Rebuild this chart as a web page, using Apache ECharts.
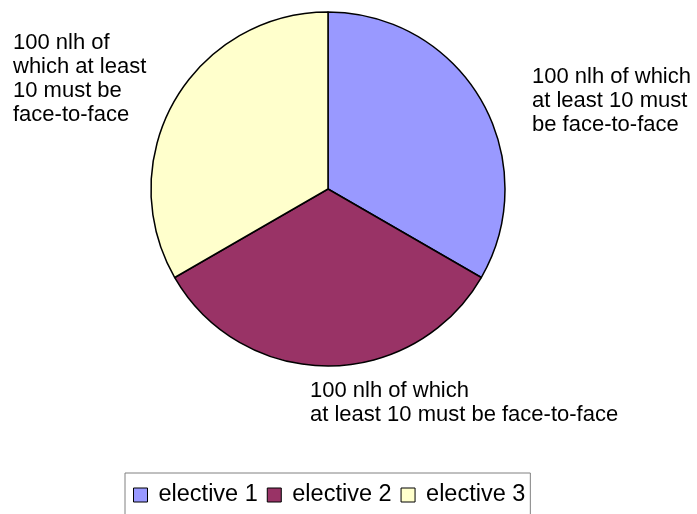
<!DOCTYPE html>
<html>
<head>
<meta charset="utf-8">
<script src="https://cdn.jsdelivr.net/npm/echarts@6/dist/echarts.min.js"></script>
<style>
  html, body { margin: 0; padding: 0; background: #fff; }
  #chart { width: 697px; height: 514px; }
</style>
</head>
<body>
<div id="chart"></div>
<script>
const categories = ["elective 1", "elective 2", "elective 3"];
const values = [100, 100, 100];
const sliceLabels = [
  "100 nlh of which\nat least 10 must\nbe face-to-face",
  "100 nlh of which\nat least 10 must be face-to-face",
  "100 nlh of\nwhich at least\n10 must be\nface-to-face",
];
const colors = ["#9999ff", "#993366", "#ffffcc"];

// where each label block sits (top-left corner)
const labelSpots = [
  [532, 65],
  [310, 379],
  [13, 31],
];

const chart = echarts.init(document.getElementById("chart"));
const font = "'Liberation Sans', Arial, sans-serif";

chart.setOption({
  animation: false,
  color: colors,
  legend: {
    data: categories,
    left: 125,
    top: 473,
    orient: "horizontal",
    icon: "rect",
    itemWidth: 14,
    itemHeight: 14,
    itemGap: 9,
    padding: [10, 5, 40, 8],
    borderColor: "#808080",
    borderWidth: 1,
    itemStyle: { borderColor: "#000", borderWidth: 1 },
    textStyle: { fontFamily: font, fontSize: 23.5, color: "#000", padding: [0, 0, 0, 6] },
  },
  series: [
    {
      type: "pie",
      center: [328, 189],
      radius: 177,
      startAngle: 90,
      clockwise: true,
      data: categories.map((name, i) => ({ name, value: values[i], label: { formatter: sliceLabels[i] } })),
      itemStyle: { borderColor: "#000", borderWidth: 1.5 },
      label: {
        show: true,
        position: "outside",
        fontFamily: font,
        fontSize: 22,
        lineHeight: 24,
        color: "#000",
        overflow: "none",
      },
      labelLine: { show: false },
      labelLayout: (params) => ({
        x: labelSpots[params.dataIndex][0],
        y: labelSpots[params.dataIndex][1],
        align: "left",
        verticalAlign: "top",
      }),
      emphasis: { disabled: true },
    },
  ],
});
</script>
</body>
</html>
